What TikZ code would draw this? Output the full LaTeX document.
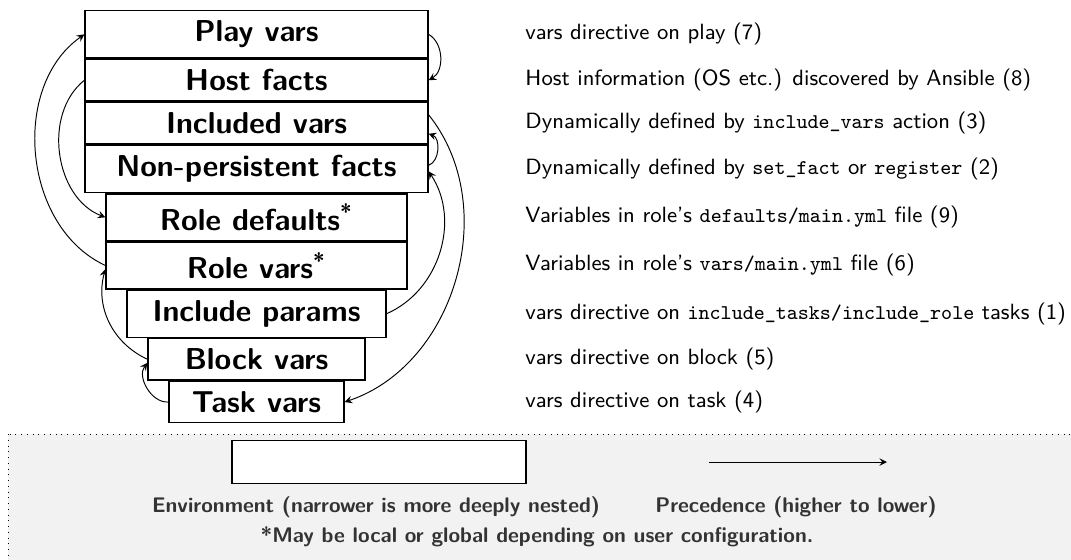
\documentclass[tikz,border=0pt]{standalone}
\usepackage{tikz}
\usetikzlibrary{calc,positioning}
\renewcommand{\familydefault}{\sfdefault}
\newcommand{\Wide}{142.9pt}
\newcommand{\Step}{17.5pt}
\newcommand{\code}[1]{{\fontsize{8.75}{11}\selectfont\texttt{#1}}}
\tikzset{Scope/.style={
    inner xsep=0pt,
    inner ysep=4.2pt,
    minimum width={\Wide-#1*\Step},
    draw=black,
    line width=0.55pt,
    fill=white,
    font=\fontsize{12.6}{15}\selectfont\bfseries,
    }
}

\begin{document}
\begin{tikzpicture}[x=0.4167pt, y=-0.4167pt,
    node distance=0pt,
    desc/.style={anchor=west, inner sep=0pt, font=\fontsize{9.2}{11}\selectfont},
    prec/.style={->, >=stealth, line width=0.4pt},
    note/.style={inner sep=0pt, font=\fontsize{8.8}{10.5}\selectfont\bfseries, text=black!80},
]
\useasboundingbox (0,0) rectangle (1071,559);
% legend background
\draw[dotted, fill=black!5] (8,434) rectangle (1090,580);

% scopes, outermost first
\node [Scope=0, anchor=north] (play) at (256.5,10) {Play vars};
\node [Scope=0, below=of play] (host) {Host facts};
\node [Scope=0, below=of host] (incl) {Included vars};
\node [Scope=0, below=of incl] (nonp) {Non-persistent facts};
\node [Scope=1, below=of nonp] (rdef) {Role defaults\textsuperscript{*}};
\node [Scope=1, below=of rdef] (rvar) {Role vars\textsuperscript{*}};
\node [Scope=2, below=of rvar] (parm) {Include params};
\node [Scope=3, below=of parm] (blck) {Block vars};
\node [Scope=4, below=of blck] (task) {Task vars};

% descriptions
\coordinate (col) at (525,0);
\node [desc] (dplay) at (col |- play) {vars directive on play (7)};
\node [desc] (dhost) at (col |- host) {Host information (OS etc.) discovered by Ansible (8)};
\node [desc] (dincl) at (col |- incl) {Dynamically defined by \code{include\_vars} action (3)};
\node [desc] (dnonp) at (col |- nonp) {Dynamically defined by \code{set\_fact} or \code{register} (2)};
\node [desc] (drdef) at (col |- rdef) {Variables in role's \code{defaults/main.yml} file (9)};
\node [desc] (drvar) at (col |- rvar) {Variables in role's \code{vars/main.yml} file (6)};
\node [desc] (dparm) at (col |- parm) {vars directive on \code{include\_tasks/include\_role} tasks (1)};
\node [desc] (dblck) at (col |- blck) {vars directive on block (5)};
\node [desc] (dtask) at (col |- task) {vars directive on task (4)};

% precedence
\draw[prec] (parm.east) to[bend right=50] ([yshift=-1pt]nonp.east);
\draw[prec] ([yshift=1.5pt]nonp.east) to[bend right=70] ([yshift=-4.4pt]incl.east);
\draw[prec] ([yshift=3.5pt]incl.east) to[bend left=55] (task.east);
\draw[prec] (task.west) to[bend left=65] ([yshift=-1.5pt]blck.west);
\draw[prec] (blck.west) to[bend left=40] ([yshift=-1.5pt]rvar.west);
\draw[prec] (rvar.west) to[bend left=60] (play.west);
\draw[prec] (play.east) to[bend left=60] (host.east);
\draw[prec] (host.west) to[bend right=60] (rdef.west);

% legend
\node [draw=black, line width=0.55pt, fill=white, minimum width=122.5pt, minimum height=17.9pt] (env) at (379,462) {};
\coordinate (pa) at (709,462);
\coordinate (pb) at (887,462);
\draw[prec] (pa) -- (pb);
\node [note] (lenv) at (376,507) {Environment (narrower is more deeply nested)};
\node [note] (lpre) at (796,507) {Precedence (higher to lower)};
\node [note] (lstar) at (537,537) {*May be local or global depending on user configuration.};
\end{tikzpicture}
\end{document}
